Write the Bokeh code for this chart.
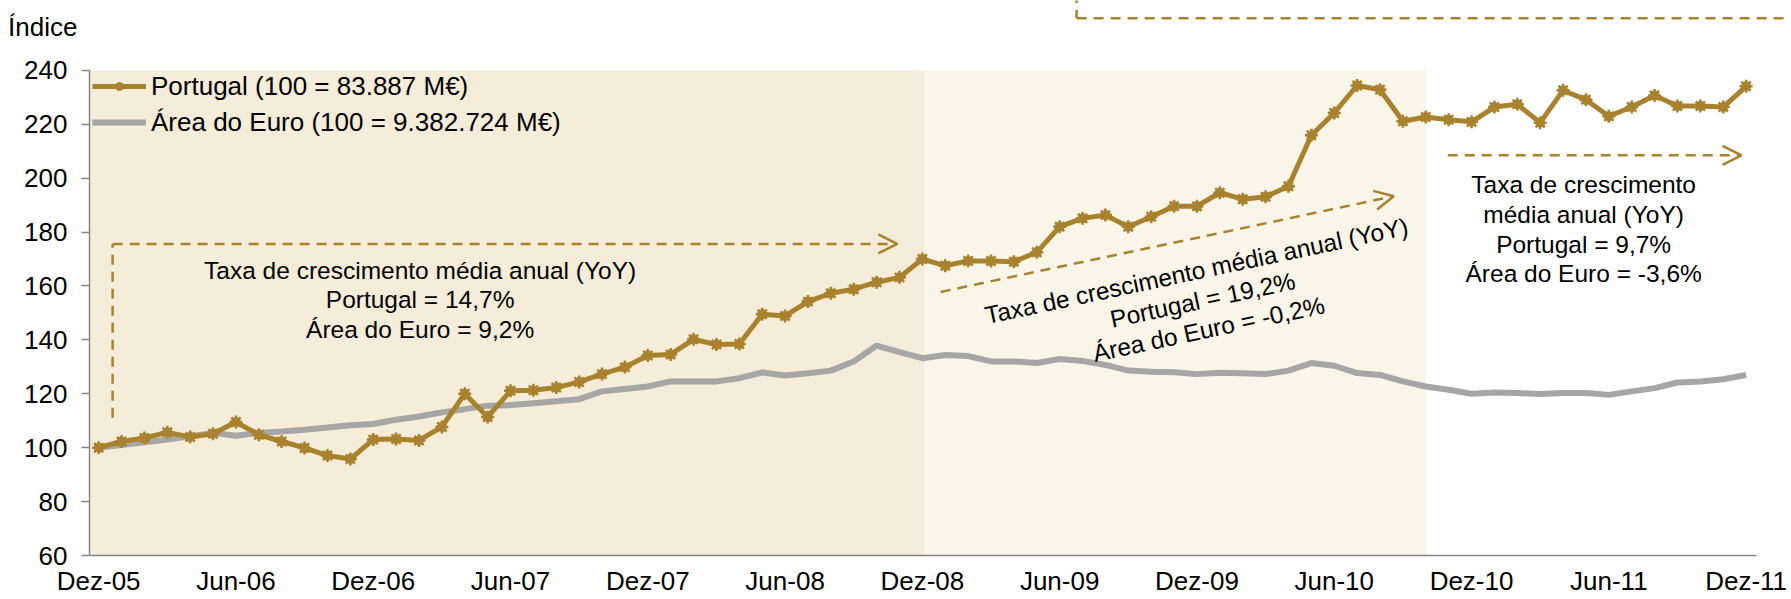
from bokeh.plotting import figure
from bokeh.models import (Range1d, LinearAxis, FixedTicker, Legend, LegendItem,
                          Arrow, OpenHead, ColumnDataSource)
from bokeh.embed import file_html
from bokeh.resources import INLINE
from bokeh.core.properties import value

# ---------------- data ----------------
months = list(range(73))  # Dez-05 .. Dez-11
tick_positions = [0, 6, 12, 18, 24, 30, 36, 42, 48, 54, 60, 66, 72]
tick_labels = ["Dez-05", "Jun-06", "Dez-06", "Jun-07", "Dez-07", "Jun-08", "Dez-08",
               "Jun-09", "Dez-09", "Jun-10", "Dez-10", "Jun-11", "Dez-11"]

portugal = [100, 102.3, 103.6, 105.7, 104, 105.2, 109.5, 104.8, 102.3, 99.9, 97.1, 95.8,
            103, 103.2, 102.7, 107.7, 120, 111.4,
            121.1, 121.3, 122.3, 124.4, 127.3, 129.9, 134.2, 134.6, 140.2, 138.3, 138.5,
            149.5, 148.9, 154.2, 157.3, 158.8, 161.4, 163.2,
            170, 167.5, 169.3, 169.3, 169, 172.5, 182, 185.1, 186.3, 182, 185.7, 189.6,
            189.6, 194.6, 192.2, 193.1, 197,
            215.9, 224.2, 234.4, 232.8, 221.1, 222.7, 221.7, 220.9, 226.4, 227.4, 220.6,
            232.6, 229.1, 223, 226.4, 230.7, 226.8, 226.8, 226.4, 234.1]

euro = [100, 101, 102, 103, 104.2, 105.5, 104.4, 105.5, 106, 106.7, 107.5, 108.3,
        108.8, 110.4, 111.6, 113.1, 114.3, 115.6,
        115.8, 116.5, 117.2, 118, 120.9, 121.8, 122.7, 124.6, 124.6, 124.6, 125.8,
        127.9, 126.8, 127.6, 128.6, 132, 137.9, 135.5,
        133.2, 134.4, 134, 132, 132, 131.4, 132.9, 132.2, 130.7, 128.6, 128.2, 128,
        127.3, 127.8, 127.6, 127.3, 128.6,
        131.4, 130.4, 127.7, 127, 124.6, 122.7, 121.5, 120, 120.5, 120.3, 119.9,
        120.3, 120.3, 119.6, 120.9, 122.1, 124.2, 124.6, 125.4, 127]

# shaded periods (month index)
period_start = [-0.4, 36.1]
period_end = [36.1, 58.0]
period_colors = ["#F5ECD9", "#F9F5E9"]

label_portugal = "Portugal (100 = 83.887 M€)"
label_euro = "Área do Euro (100 = 9.382.724 M€)"
note1 = "Taxa de crescimento média anual (YoY)\nPortugal = 14,7%\nÁrea do Euro = 9,2%"
note2 = "Taxa de crescimento média anual (YoY)\nPortugal = 19,2%\nÁrea do Euro = -0,2%"
note3 = "Taxa de crescimento\nmédia anual (YoY)\nPortugal = 9,7%\nÁrea do Euro = -3,6%"
y_title = "Índice"
y_title_level = 256   # vertical place of the "Índice" caption, in index units

GOLD = "#A9822D"
GREY = "#A6A6A6"
AXIS = "#868686"
FONT = "Liberation Sans"

# ---------------- figure ----------------
p = figure(width=1790, height=598,
           x_range=Range1d(-0.4, 73.94), y_range=Range1d(60, 265.93),
           x_axis_type=None, y_axis_type=None,
           output_backend="svg", toolbar_location=None,
           min_border_left=89, min_border_right=0, min_border_top=0, min_border_bottom=42)
p.outline_line_color = None
p.background_fill_color = "white"
p.border_fill_color = "white"

# shading
p.quad(left=period_start, right=period_end, bottom=60, top=240,
       fill_color=period_colors, line_color=None)

# value axis
yaxis = LinearAxis(ticker=FixedTicker(ticks=list(range(60, 241, 20))), bounds=(60, 240))
yaxis.axis_line_color = AXIS
yaxis.axis_line_width = 1.5
yaxis.major_tick_line_color = AXIS
yaxis.major_tick_line_width = 1.5
yaxis.major_tick_out = 8
yaxis.major_tick_in = 0
yaxis.minor_tick_out = 0
yaxis.minor_tick_in = 0
yaxis.major_label_standoff = 14
yaxis.major_label_text_font = FONT
yaxis.major_label_text_font_size = "26px"
yaxis.major_label_text_color = "black"
p.add_layout(yaxis, "left")

# "Índice" caption: an outer left axis with a single labelled level at the top
taxis = LinearAxis(ticker=FixedTicker(ticks=[y_title_level]), bounds=(250, 262),
                   major_label_overrides={y_title_level: y_title})
taxis.axis_line_color = None
taxis.major_tick_line_color = None
taxis.minor_tick_line_color = None
taxis.major_tick_out = 0
taxis.major_tick_in = 0
taxis.minor_tick_out = 0
taxis.minor_tick_in = 0
taxis.major_label_standoff = -56
taxis.major_label_text_font = FONT
taxis.major_label_text_font_size = "26px"
taxis.major_label_text_color = "black"
p.add_layout(taxis, "left")

# category (time) axis
xaxis = LinearAxis(ticker=FixedTicker(ticks=tick_positions), bounds=(-0.4, 72.45),
                   major_label_overrides={t: l for t, l in zip(tick_positions, tick_labels)})
xaxis.axis_line_color = AXIS
xaxis.axis_line_width = 1.5
xaxis.major_tick_out = 0
xaxis.major_tick_in = 0
xaxis.minor_tick_out = 0
xaxis.minor_tick_in = 0
xaxis.major_label_standoff = 10
xaxis.major_label_text_font = FONT
xaxis.major_label_text_font_size = "26px"
xaxis.major_label_text_color = "black"
p.add_layout(xaxis, "below")

# series
src = ColumnDataSource(dict(m=months, pt=portugal, eu=euro))
r_eu = p.line("m", "eu", source=src, line_color=GREY, line_width=6)
r_pt = p.line("m", "pt", source=src, line_color=GOLD, line_width=5)
r_pt_c = p.scatter("m", "pt", source=src, marker="circle", size=9,
                   fill_color=GOLD, line_color=GOLD)
r_pt_a = p.scatter("m", "pt", source=src, marker="asterisk", size=13,
                   line_color=GOLD, line_width=2.5)

# annotations: dashed arrows
DASH = "10 7"
p.segment(x0=[0.61], y0=[111.1], x1=[0.61], y1=[175.6],
          line_color=GOLD, line_width=2.5, line_dash=DASH)
p.add_layout(Arrow(x_start=0.61, y_start=175.6, x_end=34.9, y_end=175.6,
                   line_color=GOLD, line_width=2.5, line_dash=DASH,
                   end=OpenHead(size=19, line_color=GOLD, line_width=2.5)))
p.add_layout(Arrow(x_start=36.8, y_start=157.8, x_end=56.6, y_end=193.3,
                   line_color=GOLD, line_width=2.5, line_dash=DASH,
                   end=OpenHead(size=19, line_color=GOLD, line_width=2.5)))
p.add_layout(Arrow(x_start=58.96, y_start=208.5, x_end=71.8, y_end=208.5,
                   line_color=GOLD, line_width=2.5, line_dash=DASH,
                   end=OpenHead(size=19, line_color=GOLD, line_width=2.5)))
# top dashed connector (partly outside the chart)
p.segment(x0=[42.74, 42.74], y0=[275, 259.3], x1=[42.74, 76], y1=[259.3, 259.3],
          line_color=GOLD, line_width=2.5, line_dash=DASH)

# annotation texts
p.text(x=[14.05], y=[154.8], text=[note1], text_font=value(FONT), text_font_size="24.5px",
       text_align="center", text_baseline="middle", text_color="black",
       text_line_height=1.1)
p.text(x=[48.25], y=[154.8], text=[note2], angle=0.209, text_font=value(FONT),
       text_font_size="24.5px", text_align="center", text_baseline="middle",
       text_color="black", text_line_height=1.1)
p.text(x=[64.9], y=[181.0], text=[note3], text_font=value(FONT), text_font_size="24.5px",
       text_align="center", text_baseline="middle", text_color="black",
       text_line_height=1.1)

# legend
legend = Legend(items=[LegendItem(label=label_portugal, renderers=[r_pt, r_pt_c, r_pt_a]),
                       LegendItem(label=label_euro, renderers=[r_eu])],
                location=(3, 415), padding=0, margin=0, spacing=0,
                label_height=36, glyph_height=20, glyph_width=54, label_standoff=5,
                label_text_font=FONT, label_text_font_size="26px",
                label_text_color="black",
                border_line_color=None, background_fill_alpha=0)
p.add_layout(legend)

open("out.html", "w").write(file_html(p, INLINE))
